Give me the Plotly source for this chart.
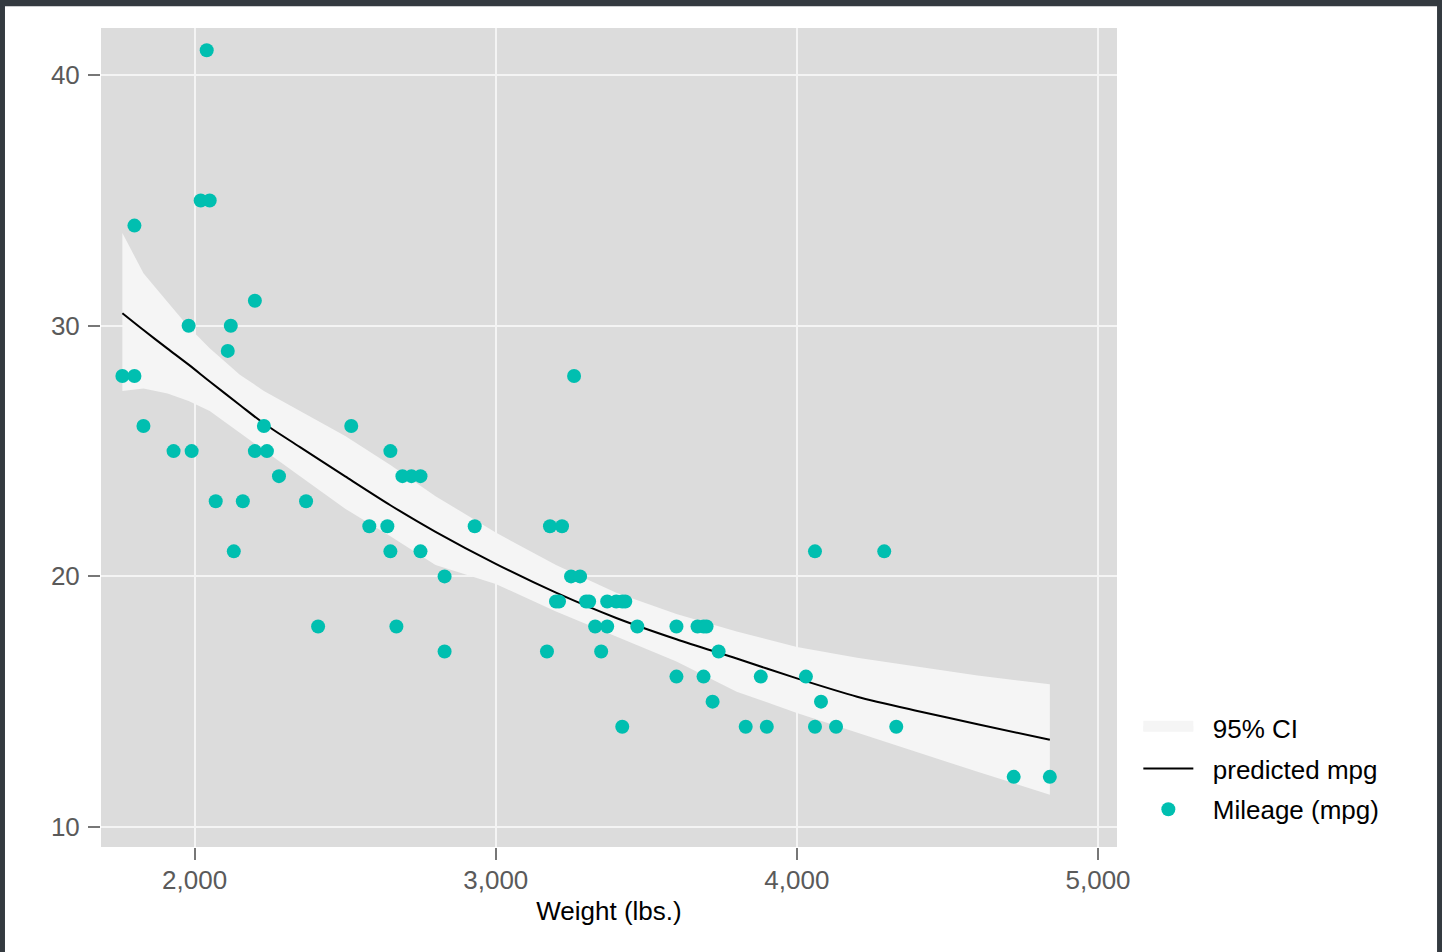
import plotly.graph_objects as go

# Observed data: car weight (lbs.) and mileage (mpg)
weight = [2930, 3350, 2640, 3250, 4080, 3670, 2230, 3280, 3880, 3400,
          4330, 3900, 4290, 2110, 3690, 3180, 3220, 2750, 3430, 2120,
          3600, 3600, 3740, 1800, 2650, 4840, 4720, 3830, 2580, 4060,
          3720, 3370, 4130, 2830, 4060, 3310, 3300, 3690, 3370, 2720,
          4030, 3260, 1800, 2200, 2520, 3330, 3700, 3470, 3210, 3200,
          3420, 2690, 2830, 2070, 2650, 2370, 2020, 2280, 2750, 2130,
          2240, 1760, 1980, 3420, 1830, 2050, 2410, 2200, 2670, 2160,
          2040, 1930, 1990, 3170]
mpg = [22, 17, 22, 20, 15, 18, 26, 20, 16, 19,
       14, 14, 21, 29, 16, 22, 22, 24, 19, 30,
       18, 16, 17, 28, 21, 12, 12, 14, 22, 14,
       15, 18, 14, 20, 21, 19, 19, 18, 19, 24,
       16, 28, 34, 25, 26, 18, 18, 18, 19, 19,
       19, 24, 17, 23, 25, 23, 35, 24, 21, 21,
       25, 28, 30, 14, 26, 35, 18, 31, 18, 23,
       41, 25, 25, 17]

# Prediction and 95% CI
pred_x = [1760, 1830, 1910, 1980, 2050, 2150, 2230, 2350, 2500, 2650, 2800,
          3000, 3200, 3400, 3600, 3800, 4000, 4200, 4400, 4600, 4840]
pred_mpg = [30.5, 29.83, 29.09, 28.45, 27.78, 26.84, 26.1, 25.16, 23.99, 22.84, 21.78,
            20.5, 19.35, 18.34, 17.49, 16.72, 15.93, 15.2, 14.63, 14.1, 13.48]
ci_upper = [33.7, 32.1, 30.95, 29.95, 29.1, 28.05, 27.4, 26.6, 25.6, 24.45, 23.2,
            21.75, 20.45, 19.35, 18.5, 17.8, 17.18, 16.75, 16.38, 16.04, 15.7]
ci_lower = [27.4, 27.5, 27.3, 27.0, 26.6, 25.75, 25.05, 24.0, 22.7, 21.6, 20.45,
            19.7, 18.6, 17.6, 16.6, 15.4, 14.55, 13.75, 12.98, 12.2, 11.29]

x_ticks = [2000, 3000, 4000, 5000]
x_ticklabels = ["2,000", "3,000", "4,000", "5,000"]
y_ticks = [10, 20, 30, 40]
y_ticklabels = ["10", "20", "30", "40"]

FONT = "Liberation Sans, Arial, Helvetica, sans-serif"
CI_COLOR = "#f5f5f5"
PAD = "\u00a0\u00a0"

fig = go.Figure()
# CI band (drawn from the upper and lower bounds)
fig.add_trace(go.Scatter(
    x=pred_x + pred_x[::-1], y=ci_upper + ci_lower[::-1],
    fill="toself", fillcolor=CI_COLOR, line=dict(width=0, color=CI_COLOR),
    mode="lines", name="95% CI", showlegend=False, hoverinfo="skip"))
# legend entry for the CI band
fig.add_trace(go.Scatter(
    x=[None], y=[None], fill="toself", fillcolor=CI_COLOR,
    line=dict(width=10, color=CI_COLOR), mode="lines",
    name=PAD + "95% CI", legendgroup="a"))
fig.add_trace(go.Scatter(
    x=pred_x, y=pred_mpg, mode="lines", name=PAD + "predicted mpg",
    line=dict(color="black", width=2, shape="spline", smoothing=0.8),
    legendgroup="b"))
fig.add_trace(go.Scatter(
    x=weight, y=mpg, mode="markers", name=PAD + "Mileage (mpg)",
    marker=dict(color="#00BFB0", size=14, line=dict(width=0)),
    legendgroup="c"))

axis_common = dict(
    showgrid=True, gridcolor="#f4f4f4", gridwidth=2,
    zeroline=False, showline=False,
    ticks="outside", ticklen=12, tickwidth=2, tickcolor="#777777",
    tickfont=dict(family=FONT, size=26, color="#5a5a5a"),
)

fig.update_xaxes(range=[1689, 5063], tickvals=x_ticks, ticktext=x_ticklabels,
                 ticklabelstandoff=-2,
                 title=dict(text="Weight (lbs.)", font=dict(family=FONT, size=26, color="black"),
                            standoff=7),
                 **axis_common)
fig.update_yaxes(range=[9.2, 41.886], tickvals=y_ticks, ticktext=y_ticklabels,
                 ticklabelstandoff=3, **axis_common)

# dark window frame around the page (top, left, right)
frame = "#343a40"
shapes = [
    dict(type="rect", xref="paper", yref="paper", x0=-0.0995, x1=-0.0945,
         y0=-0.13, y1=1.04, fillcolor=frame, line=dict(width=0), layer="above"),
    dict(type="rect", xref="paper", yref="paper", x0=-0.0995, x1=1.321,
         y0=1.02648, y1=1.04, fillcolor=frame, line=dict(width=0), layer="above"),
    dict(type="rect", xref="paper", yref="paper", x0=1.3150, x1=1.321,
         y0=-0.13, y1=1.04, fillcolor=frame, line=dict(width=0), layer="above"),
]

fig.update_layout(
    width=1442, height=952,
    margin=dict(l=101, r=325, t=28, b=105, autoexpand=False),
    paper_bgcolor="white", plot_bgcolor="#dcdcdc",
    font=dict(family=FONT, size=26, color="black"),
    showlegend=True,
    legend=dict(x=1.021, xanchor="left", y=0.0955, yanchor="middle",
                font=dict(family=FONT, size=26, color="black"),
                bgcolor="rgba(0,0,0,0)", tracegroupgap=4, itemwidth=50,
                traceorder="grouped"),
    shapes=shapes,
)

fig.write_html("out.html", config={"displayModeBar": False},
               post_script="document.body.style.margin='0px';")
